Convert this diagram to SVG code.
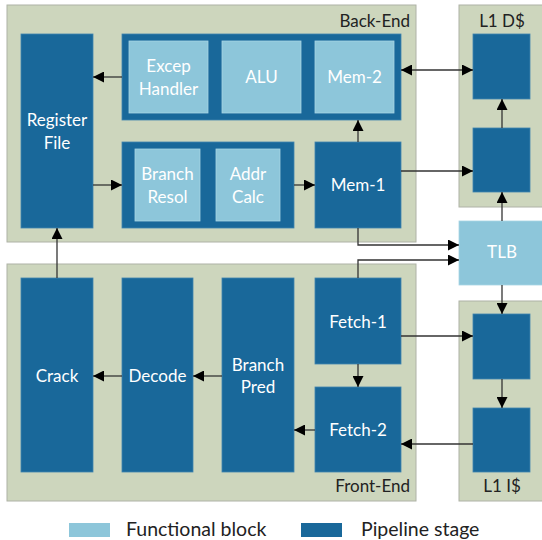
<svg xmlns="http://www.w3.org/2000/svg" width="542" height="540" viewBox="0 0 542 540">
<defs>
<style>
.panel{fill:#CDD6BD;stroke:#AEB2A6;stroke-width:1}
.stage{fill:#19689A;stroke:#3F84B0;stroke-width:0.8}
.func{fill:#8DC6DA;stroke:#A9D4E3;stroke-width:0.8}
.wt{font-family:Lato,"Open Sans",sans-serif;font-size:17px;fill:#FFFFFF;text-anchor:middle}
.lbl{font-family:Lato,"Open Sans",sans-serif;font-size:17px;fill:#222222}
.leg{font-family:Lato,"Open Sans",sans-serif;font-size:19.5px;fill:#222222}
.conn{fill:none;stroke:#333333;stroke-width:1.3}
</style>
<marker id="ah" viewBox="0 0 10 10" refX="10" refY="5" markerWidth="11" markerHeight="11" markerUnits="userSpaceOnUse" orient="auto-start-reverse">
<path d="M0,0 L10,5 L0,10 z" fill="#000000"/>
</marker>
</defs>
<rect width="542" height="540" fill="#FFFFFF"/>

<g id="back-end">
<rect class="panel" x="7" y="5" width="409" height="237"/>
<text class="lbl" x="410" y="27" text-anchor="end">Back-End</text>
</g>
<g id="front-end">
<rect class="panel" x="7" y="264" width="409" height="237"/>
<text class="lbl" x="410" y="492" text-anchor="end">Front-End</text>
</g>
<g id="l1d">
<rect class="panel" x="459" y="5" width="90" height="202"/>
<text class="lbl" x="502" y="27" text-anchor="middle">L1 D$</text>
</g>
<g id="l1i">
<rect class="panel" x="459" y="301" width="90" height="200"/>
<text class="lbl" x="502" y="492" text-anchor="middle">L1 I$</text>
</g>

<g id="register-file">
<rect class="stage" x="21" y="34" width="72" height="194"/>
<text class="wt" x="57" y="126">Register</text>
<text class="wt" x="57" y="149">File</text>
</g>
<g id="exec-upper">
<rect class="stage" x="122" y="34" width="279" height="86"/>
</g>
<g id="excep-handler">
<rect class="func" x="129" y="41" width="79" height="72"/>
<text class="wt" x="168.5" y="72">Excep</text>
<text class="wt" x="168.5" y="95">Handler</text>
</g>
<g id="alu">
<rect class="func" x="222" y="41" width="79" height="72"/>
<text class="wt" x="261.5" y="83">ALU</text>
</g>
<g id="mem-2">
<rect class="func" x="315" y="41" width="79" height="72"/>
<text class="wt" x="354.5" y="83">Mem-2</text>
</g>
<g id="exec-lower">
<rect class="stage" x="122" y="142" width="172" height="86"/>
</g>
<g id="branch-resol">
<rect class="func" x="135" y="149" width="65" height="72"/>
<text class="wt" x="167.5" y="180">Branch</text>
<text class="wt" x="167.5" y="203">Resol</text>
</g>
<g id="addr-calc">
<rect class="func" x="216" y="149" width="64" height="72"/>
<text class="wt" x="248" y="180">Addr</text>
<text class="wt" x="248" y="203">Calc</text>
</g>
<g id="mem-1">
<rect class="stage" x="315" y="142" width="86" height="86"/>
<text class="wt" x="358" y="191">Mem-1</text>
</g>
<g id="dcache-1">
<rect class="stage" x="473" y="34" width="57" height="65"/>
</g>
<g id="dcache-2">
<rect class="stage" x="473" y="128" width="57" height="64"/>
</g>
<g id="tlb">
<rect class="func" x="459" y="221" width="90" height="64"/>
<text class="wt" x="502" y="258">TLB</text>
</g>
<g id="crack">
<rect class="stage" x="21" y="278" width="72" height="194"/>
<text class="wt" x="57" y="382">Crack</text>
</g>
<g id="decode">
<rect class="stage" x="122" y="278" width="71" height="194"/>
<text class="wt" x="157.5" y="382">Decode</text>
</g>
<g id="branch-pred">
<rect class="stage" x="222" y="278" width="72" height="194"/>
<text class="wt" x="258" y="371">Branch</text>
<text class="wt" x="258" y="393">Pred</text>
</g>
<g id="fetch-1">
<rect class="stage" x="315" y="278" width="86" height="86"/>
<text class="wt" x="358" y="328">Fetch-1</text>
</g>
<g id="fetch-2">
<rect class="stage" x="315" y="387" width="86" height="85"/>
<text class="wt" x="358" y="436">Fetch-2</text>
</g>
<g id="icache-1">
<rect class="stage" x="473" y="314" width="57" height="65"/>
</g>
<g id="icache-2">
<rect class="stage" x="473" y="408" width="57" height="64"/>
</g>

<g id="connectors">
<path class="conn" d="M122,77 H93" marker-end="url(#ah)"/>
<path class="conn" d="M93,185 H122" marker-end="url(#ah)"/>
<path class="conn" d="M294,185 H315" marker-end="url(#ah)"/>
<path class="conn" d="M358,142 V120" marker-end="url(#ah)"/>
<path class="conn" d="M401,70 H473" marker-start="url(#ah)" marker-end="url(#ah)"/>
<path class="conn" d="M401,171 H473" marker-end="url(#ah)"/>
<path class="conn" d="M502,128 V99" marker-end="url(#ah)"/>
<path class="conn" d="M502,221 V192" marker-end="url(#ah)"/>
<path class="conn" d="M358,228 V245 H459" marker-end="url(#ah)"/>
<path class="conn" d="M358,278 V260 H459" marker-end="url(#ah)"/>
<path class="conn" d="M502,285 V314" marker-end="url(#ah)"/>
<path class="conn" d="M502,379 V408" marker-end="url(#ah)"/>
<path class="conn" d="M401,336 H473" marker-end="url(#ah)"/>
<path class="conn" d="M473,444 H401" marker-end="url(#ah)"/>
<path class="conn" d="M358,364 V387" marker-end="url(#ah)"/>
<path class="conn" d="M315,430 H294" marker-end="url(#ah)"/>
<path class="conn" d="M222,376 H193" marker-end="url(#ah)"/>
<path class="conn" d="M122,376 H93" marker-end="url(#ah)"/>
<path class="conn" d="M57,278 V228" marker-end="url(#ah)"/>
</g>

<g id="legend">
<rect x="69" y="523" width="41" height="14" fill="#8DC6DA"/>
<text class="leg" x="126" y="536">Functional block</text>
<rect x="301" y="523" width="41" height="14" fill="#19689A"/>
<text class="leg" x="361" y="536">Pipeline stage</text>
</g>
</svg>
